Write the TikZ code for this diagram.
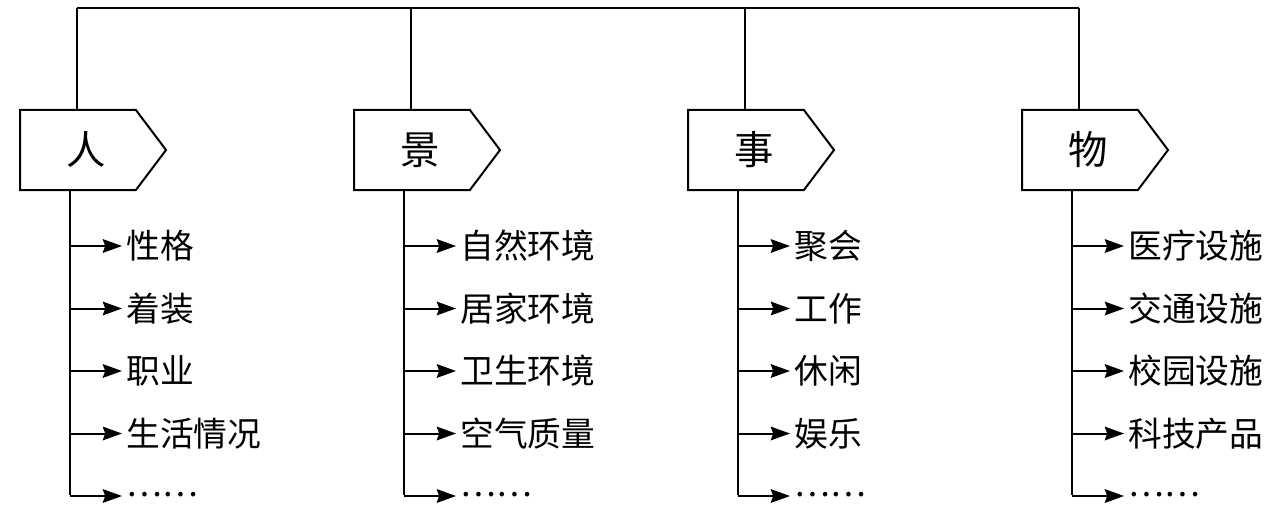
\documentclass[tikz,border=0pt]{standalone}
\usepackage{fontspec}
\setmainfont{Noto Sans CJK SC}
\usetikzlibrary{shapes.symbols}
\usetikzlibrary{arrows.meta}

\tikzset{
  tag/.style={draw,line width=0.05cm,signal,signal to=east,signal pointer angle=106,
    minimum width=3.65cm,minimum height=2cm,inner sep=0pt,anchor=west,
    font=\fontsize{28}{32}\selectfont},
  item/.style={anchor=west,inner sep=0.1cm,font=\fontsize{24}{28}\selectfont},
  line/.style={line width=0.05cm},
  branch/.style={line width=0.05cm,-{Stealth[length=0.48cm,width=0.34cm,inset=0.06cm]}}
}

\begin{document}
\begin{tikzpicture}[x=0.025cm,y=0.025cm]
    \useasboundingbox (0,0) rectangle (1280,522);
    \foreach \name/\lbl/\xx/\items in {ren/人/19/{性格,着装,职业,生活情况,\raisebox{0.08em}{……}},
        jing/景/353/{自然环境,居家环境,卫生环境,空气质量,\raisebox{0.08em}{……}},
        shi/事/687/{聚会,工作,休闲,娱乐,\raisebox{0.08em}{……}},
        wu/物/1021/{医疗设施,交通设施,校园设施,科技产品,\raisebox{0.08em}{……}}} {
      \node[tag] (\name) at (\xx,372) {\hspace*{0.4cm}\lbl};
      \coordinate (\name-up) at (\xx+58,514);
      \coordinate (\name-end) at (\xx+51,27);
      \draw[line] (\name.north -| \name-up) -- (\name-up);
      \draw[line] (\name.south -| \name-end) -- (\name-end);
      \foreach \t [count=\i] in \items {
        \node[item] (\name-\i) at (\xx+103,276-62.5*\i+62.5) {\t};
        \draw[branch] (\name-\i.west -| \name-end) -- (\name-\i.west);
      }
    }
    \draw[line] (ren-up) -- (wu-up);
\end{tikzpicture}
\end{document}
